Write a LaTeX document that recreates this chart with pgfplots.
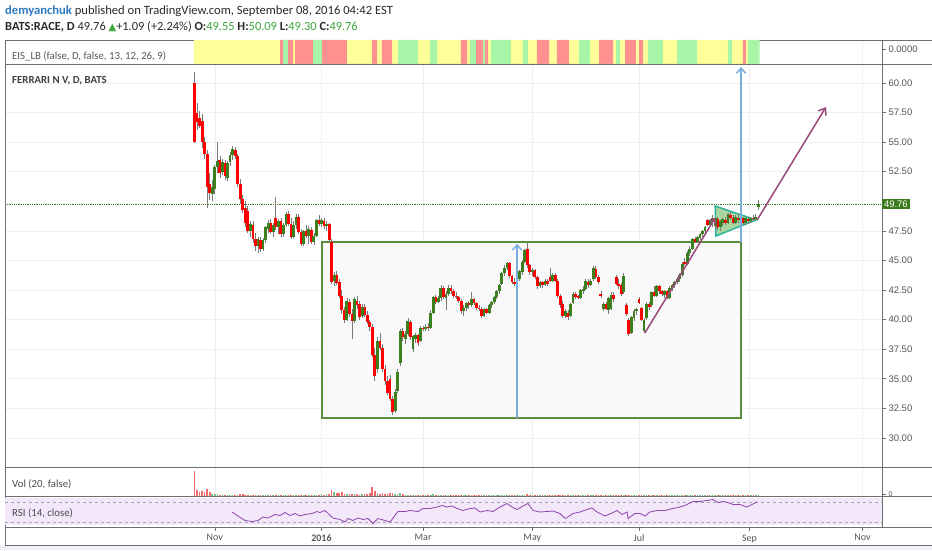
\documentclass[border=0pt]{standalone}
\usepackage{pgfplots}
\pgfplotsset{compat=1.18}
\usepackage{pgfplotstable}
\usepackage{fontspec}
\setmainfont{Carlito}
\newfontfamily\libsans{Liberation Sans}
\newfontfamily\dejavu{DejaVu Sans}
\usetikzlibrary{arrows.meta}
\definecolor{framec}{HTML}{707070}
\definecolor{gridc}{HTML}{EFEFEF}
\definecolor{tickc}{HTML}{555555}
\definecolor{eisY}{HTML}{FFFF99}
\definecolor{eisR}{HTML}{FF9090}
\definecolor{eisG}{HTML}{A8F5A8}
\definecolor{cred}{HTML}{FF0000}
\definecolor{cgreen}{HTML}{3C7F1E}
\definecolor{wick}{HTML}{7A7A7A}
\definecolor{boxgreen}{HTML}{5B8E3B}
\definecolor{boxfill}{HTML}{F9F9F9}
\definecolor{arrowblue}{HTML}{7AAEE0}
\definecolor{arrowpurple}{HTML}{9A4878}
\definecolor{trifill}{HTML}{A9D6A0}
\definecolor{triedge}{HTML}{2DB39B}
\definecolor{lastgreen}{HTML}{3A7A1C}
\definecolor{rsiline}{HTML}{8E44AD}
\definecolor{rsifill}{HTML}{F3E7FA}
\definecolor{volred}{HTML}{F26D6D}
\definecolor{volgreen}{HTML}{7FBF8F}
\definecolor{tvblue}{HTML}{2D7BC0}
\definecolor{valgreen}{HTML}{3DA63D}
\definecolor{bgstrip}{HTML}{EEF2F6}
\definecolor{txt}{HTML}{2A2A2A}

\pgfplotstableread{
b o h l c v
0 60.00 60.93 54.90 55.00 84
1 57.50 58.30 56.00 56.70 20
2 57.00 57.60 56.20 56.40 14
3 56.80 57.40 54.50 55.00 16
4 55.00 55.40 53.60 54.00 12
5 54.00 54.30 49.40 51.20 23
6 51.50 52.40 50.10 50.70 15
7 50.60 51.80 50.00 51.20 8
8 51.00 53.10 50.60 52.90 7
9 52.90 55.00 52.40 53.40 6
10 53.50 53.80 52.00 52.40 5
11 52.50 53.60 52.20 53.30 4
12 53.20 53.50 51.80 52.10 4
13 52.00 53.40 51.70 53.20 5
14 53.30 54.20 53.00 53.90 4
15 53.90 54.70 53.50 54.40 3
16 54.30 54.60 53.60 53.80 3
17 53.80 54.00 51.20 51.50 4
18 51.50 51.90 49.80 50.20 6
19 50.20 50.50 49.00 49.30 6
20 49.40 50.00 47.80 48.20 5
21 49.20 49.60 47.30 47.50 5
22 47.50 48.30 47.00 48.10 4
23 48.00 48.30 46.50 46.80 4
24 46.80 47.30 45.80 46.20 5
25 46.20 47.00 45.60 46.80 4
26 46.70 47.00 45.70 46.00 3
27 46.00 46.90 45.80 46.70 5
28 46.70 47.90 46.50 47.80 4
29 47.70 48.40 47.30 48.20 3
30 48.20 48.50 47.20 47.40 3
31 47.40 48.20 47.00 48.00 4
32 48.60 50.40 47.60 47.80 5
33 47.80 48.50 47.20 48.30 3
34 48.30 48.60 47.00 47.20 3
35 47.20 48.20 47.00 48.00 4
36 48.00 49.10 47.80 48.90 3
37 48.90 49.20 47.90 48.10 3
38 48.10 48.60 46.80 47.00 4
39 47.00 48.30 46.90 48.00 3
40 48.00 48.90 47.70 48.70 2
41 48.70 48.90 47.20 47.40 3
42 47.40 47.70 46.20 46.40 4
43 46.40 47.60 46.20 47.50 3
44 47.50 48.00 46.90 47.10 3
45 47.10 47.90 46.40 47.70 2
46 47.60 47.80 46.40 46.60 3
47 46.60 47.30 46.30 47.10 2
48 47.10 48.50 47.00 48.40 3
49 48.40 48.80 47.90 48.10 2
50 48.10 48.60 47.80 48.40 6
51 48.30 48.60 47.70 47.90 5
52 47.90 48.30 47.50 48.10 6
53 48.10 48.20 46.50 46.70 7
54 46.60 46.80 43.00 43.20 20
55 43.30 44.00 42.80 43.80 12
56 43.80 44.10 42.90 43.10 10
57 43.20 43.40 41.80 42.00 9
58 42.00 42.50 40.50 40.80 13
59 40.80 41.10 39.70 40.00 8
60 40.00 41.80 39.90 41.60 7
61 41.50 41.70 40.20 40.50 7
62 40.50 40.90 38.40 39.90 8
63 39.90 41.90 39.70 41.70 6
64 41.60 42.00 40.90 41.20 6
65 41.30 41.60 40.00 40.20 5
66 40.30 41.30 40.10 41.10 6
67 41.10 41.30 40.20 40.40 7
68 40.40 40.70 39.60 39.80 8
69 39.80 40.00 39.00 39.40 9
70 39.40 39.60 36.80 37.00 30
71 37.00 37.60 34.80 35.20 18
72 35.80 38.50 35.50 38.20 10
73 38.20 38.90 37.40 37.60 8
74 37.60 37.90 35.60 35.80 9
75 35.80 36.20 34.50 34.80 8
76 34.80 35.20 33.60 33.80 7
77 35.00 35.30 33.10 33.30 9
78 33.30 33.50 31.90 32.20 10
79 32.30 34.10 32.10 33.90 8
80 34.00 35.80 33.80 35.60 7
81 36.30 39.20 36.10 39.00 9
82 39.00 39.30 38.20 38.50 6
83 38.40 39.00 37.90 38.80 5
84 38.80 40.10 38.60 39.90 5
85 39.80 40.00 38.30 38.50 4
86 37.50 38.70 37.30 38.60 5
87 38.40 38.90 38.00 38.70 4
88 38.70 38.80 37.80 38.00 4
89 38.20 39.50 38.10 39.30 5
90 39.30 39.50 39.00 39.20 4
91 39.20 39.60 39.00 39.40 4
92 39.40 39.70 39.00 39.30 3
93 39.30 40.80 39.20 40.60 5
94 40.60 42.00 40.50 41.90 6
95 41.90 42.10 41.30 41.50 4
96 41.50 42.00 41.40 41.80 3
97 41.80 42.90 41.60 42.70 4
98 42.70 42.80 41.70 41.90 3
99 41.80 42.40 40.80 42.20 3
100 42.20 42.90 42.00 42.70 4
101 42.70 42.90 42.20 42.40 3
102 42.40 42.60 41.80 42.00 3
103 42.00 42.30 41.70 41.90 2
104 41.90 42.00 41.40 41.60 3
105 41.60 41.70 40.50 40.70 4
106 40.70 41.20 40.30 41.00 3
107 41.00 41.50 40.70 41.40 3
108 41.40 41.60 40.90 41.20 2
109 41.20 42.30 41.10 41.70 3
110 41.70 41.80 41.20 41.40 2
111 41.40 41.50 40.80 41.00 3
112 41.00 41.20 40.70 40.90 2
113 40.90 41.10 40.10 40.30 3
114 40.30 41.00 40.20 40.90 3
115 40.90 41.00 40.50 40.60 2
116 40.60 41.30 40.50 41.20 3
117 41.20 41.60 41.00 41.50 3
118 41.50 42.00 41.30 41.90 3
119 41.90 42.50 41.70 42.40 4
120 42.40 43.00 42.20 42.90 4
121 43.00 44.00 42.90 43.90 5
122 43.90 44.60 43.70 44.40 4
123 44.40 44.90 44.20 44.80 4
124 44.80 44.90 43.50 43.70 4
125 43.70 43.80 43.00 43.20 3
126 43.20 43.50 42.80 43.00 3
127 43.00 43.40 42.80 43.30 2
128 43.40 44.20 43.30 44.10 3
129 44.00 45.00 43.80 44.90 4
130 44.90 46.00 44.80 45.90 5
131 46.00 46.60 44.40 44.60 6
132 44.60 44.70 43.80 44.00 4
133 44.00 44.40 43.70 44.20 3
134 44.20 44.30 43.40 43.60 3
135 43.60 43.70 42.60 42.80 4
136 42.80 43.30 42.70 43.20 3
137 43.20 43.30 42.70 42.90 2
138 42.90 43.40 42.80 43.30 2
139 43.30 43.40 42.80 43.00 2
140 43.60 44.40 43.20 43.30 3
141 43.30 43.90 43.20 43.80 2
142 43.80 43.90 43.20 43.30 2
143 43.30 43.40 41.80 42.00 4
144 42.00 42.20 41.00 41.20 4
145 41.30 41.60 40.10 40.30 5
146 40.30 40.90 40.10 40.70 3
147 40.60 40.80 40.00 40.20 3
148 40.30 41.40 40.20 41.30 3
149 41.40 42.30 41.30 42.20 3
150 42.20 42.30 41.70 41.90 2
151 42.00 42.10 41.70 41.80 2
152 41.80 42.60 41.70 42.50 3
153 42.40 42.80 42.20 42.60 2
154 42.60 43.40 42.50 43.30 3
155 43.20 43.40 42.70 42.90 2
156 42.90 43.40 42.80 43.30 2
157 43.40 44.50 43.30 44.40 4
158 44.30 44.50 43.40 43.60 3
159 43.60 43.80 43.00 43.20 3
160 42.20 42.40 41.80 42.00 4
161 40.90 41.50 40.70 41.30 5
162 41.30 41.50 40.80 40.90 3
163 40.80 41.90 40.50 41.80 3
164 40.90 42.30 40.80 42.10 3
165 42.10 42.30 41.50 41.70 2
166 43.60 43.80 42.90 43.00 4
167 43.00 43.40 42.60 42.80 3
168 42.90 43.10 42.00 42.20 3
169 42.30 43.90 42.20 43.70 3
170 41.20 41.40 40.30 40.50 4
171 40.00 40.10 38.60 38.80 5
172 38.90 40.30 38.80 40.20 3
173 40.10 40.90 39.90 40.70 3
174 40.70 41.00 40.40 40.90 2
175 41.70 41.90 41.30 41.40 2
176 41.00 41.10 39.90 40.00 3
177 39.00 40.10 38.90 40.00 3
178 40.10 41.50 40.00 41.30 3
179 41.30 41.50 40.80 41.10 2
180 41.20 42.40 41.10 42.30 3
181 42.30 42.80 41.90 42.00 2
182 42.00 42.90 41.90 42.80 2
183 42.80 42.90 42.20 42.40 2
184 42.40 42.50 42.00 42.20 2
185 42.10 42.50 41.80 42.40 2
186 42.40 42.50 41.70 41.80 3
187 41.80 42.80 41.70 42.70 3
188 42.70 43.00 42.40 42.90 2
189 42.90 43.30 42.70 43.20 3
190 43.20 43.60 43.00 43.40 3
191 43.40 43.90 43.20 43.80 3
192 43.80 44.90 43.60 44.70 4
193 44.90 45.20 44.60 44.70 3
194 44.70 45.80 44.60 45.60 4
195 45.60 46.20 45.40 46.00 4
196 46.00 46.90 45.90 46.80 5
197 46.80 47.00 46.50 46.60 3
198 46.60 47.10 46.50 47.00 3
199 46.90 47.30 46.70 47.20 3
200 47.20 47.60 47.00 47.50 3
201 47.50 47.90 47.30 47.80 4
202 48.40 48.50 47.90 48.00 3
203 48.00 48.50 47.90 48.40 3
204 48.30 48.80 47.80 48.60 4
205 47.90 48.70 47.70 48.60 3
206 48.50 48.70 47.60 47.80 3
207 47.80 48.40 47.50 48.30 3
208 48.20 48.60 47.90 48.50 2
209 48.40 48.70 48.00 48.20 2
210 48.20 49.00 48.10 48.90 3
211 48.80 49.10 48.40 48.60 2
212 48.60 48.80 48.10 48.20 2
213 48.20 48.80 48.10 48.70 3
214 48.60 48.90 48.20 48.40 2
215 48.40 48.70 48.10 48.60 2
216 48.60 48.70 48.10 48.20 2
217 48.20 48.70 48.00 48.60 3
218 48.50 48.70 48.10 48.30 2
219 48.30 48.70 48.20 48.60 2
220 48.60 48.80 48.30 48.50 2
221 48.50 48.90 48.40 48.67 3
222 49.55 50.09 49.30 49.76 4
}\candles

\pgfplotsset{
  panel/.style={
    scale only axis, width=877pt,
    xmin=-74.6, xmax=270.67,
    axis line style={draw=framec, line width=0.8pt},
    xtick={8,50,90,133,175,218.5,263},
    xticklabels={},
    xmajorgrids,
    grid style={draw=gridc, line width=0.6pt},
    ytick pos=right, yticklabel pos=right, xtick pos=left,
    tick align=outside, major tick length=4pt,
    ytick style={draw=framec, line width=0.6pt},
    xtick style={draw=none},
    y tick label style={font=\libsans\fontsize{9.5}{11}\selectfont, text=tickc, xshift=-1pt,
      /pgf/number format/fixed, /pgf/number format/fixed zerofill,
      /pgf/number format/precision=2, /pgf/number format/assume math mode=true},
  },
  nomark/.style={only marks, mark=*, mark size=0pt, mark options={draw=none, fill=none}},
}

\begin{document}
\begin{tikzpicture}
\useasboundingbox (0,0) rectangle (932pt,550pt);
\fill[white] (0,0) rectangle (932pt,550pt);
\fill[bgstrip] (0,0) rectangle (932pt,5pt);

% EIS panel
\begin{axis}[panel, at={(5pt,510pt)}, anchor=north west, height=24pt,
  ymin=0, ymax=1, ytick={0.62}, yticklabels={0.0000}]
\addplot[const plot, fill=eisY, draw=none] coordinates {(-0.2,1)(33.7,0)(38.8,1)(39.6,0)(60,1)(69.9,0)(71.9,1)(73.8,0)(77.8,1)(80.1,0)(88,1)(92.7,0)(95.5,1)(104.9,0)(107.3,1)(108.5,0)(115.6,1)(116.7,0)(124.6,1)(129.3,0)(131.3,1)(134.8,0)(139.6,1)(142.7,0)(147.4,1)(151.4,0)(155.7,1)(159.3,0)(164.8,1)(166,0)(167.5,1)(169.5,0)(173.8,1)(175,0)(176.6,1)(178.5,0)(184.4,1)(189.9,0)(197.8,1)(210,0)(211.6,1)(215.9,0)(217.1,1)(217.9,0)} \closedcycle;
\addplot[const plot, fill=eisR, draw=none] coordinates {(33.7,1)(34.8,0)(36.8,1)(38.8,0)(39.6,1)(46.7,0)(50.2,1)(60,0)(69.9,1)(71.9,0)(73.8,1)(77.8,0)(104.9,1)(107.3,0)(110.8,1)(113.6,0)(114.4,1)(115.6,0)(134.8,1)(139.6,0)(142.7,1)(147.4,0)(159.3,1)(164.8,0)(169.5,1)(173.8,0)(175,1)(176.6,0)(215.9,1)(217.1,0)} \closedcycle;
\addplot[const plot, fill=eisG, draw=none] coordinates {(34.8,1)(36.8,0)(46.7,1)(50.2,0)(80.1,1)(88,0)(92.7,1)(95.5,0)(108.5,1)(110.8,0)(113.6,1)(114.4,0)(116.7,1)(124.6,0)(129.3,1)(131.3,0)(151.4,1)(155.7,0)(166,1)(167.5,0)(178.5,1)(184.4,0)(189.9,1)(197.8,0)(210,1)(211.6,0)(217.9,1)(222.5,0)} \closedcycle;
\end{axis}

% Price panel
\begin{axis}[panel, at={(5pt,486pt)}, anchor=north west, height=403pt,
  ymin=27.54, ymax=61.606, ymajorgrids,
  ytick={30,32.5,35,37.5,40,42.5,45,47.5,52.5,55,57.5,60},
  extra y ticks={49.76}, extra y tick labels={49.76},
  extra y tick style={major tick length=0pt, grid=none,
    yticklabel style={fill=lastgreen, text=white, inner sep=1.8pt, xshift=1pt}}]
\addplot[draw=boxgreen, line width=1.8pt, fill=boxfill] coordinates {(50.2,31.68)(215.2,31.68)(215.2,46.56)(50.2,46.56)} -- cycle;
\addplot[draw=lastgreen, densely dotted, line width=0.8pt] coordinates {(-74.6,49.76)(270.67,49.76)};
\addplot[draw=triedge, line width=1.5pt, fill=trifill] coordinates {(205,49.60)(205.3,47.07)(221.1,48.42)} -- cycle;
% wicks
\addplot[nomark, error bars/.cd, y dir=plus, y explicit, error mark=none,
  error bar style={draw=wick, line width=0.7pt}]
  table[x=b, y=l, y error plus expr=\thisrow{h}-\thisrow{l}] {\candles};
% down bodies
\addplot[nomark, restrict expr to domain={\thisrow{o}-\thisrow{c}}{0.001:100},
  error bars/.cd, y dir=plus, y explicit, error mark=none,
  error bar style={draw=cred, line width=2.8pt}]
  table[x=b, y=c, y error plus expr=\thisrow{o}-\thisrow{c}] {\candles};
% up bodies
\addplot[nomark, restrict expr to domain={\thisrow{c}-\thisrow{o}}{0:100},
  error bars/.cd, y dir=plus, y explicit, error mark=none,
  error bar style={draw=cgreen, line width=2.8pt}]
  table[x=b, y=o, y error plus expr=\thisrow{c}-\thisrow{o}] {\candles};
% arrows
\addplot[draw=arrowblue, line width=1.5pt, -{Straight Barb[length=5pt,width=9pt]}] coordinates {(127,31.68)(127,46.4)};
\addplot[draw=arrowblue, line width=1.5pt, -{Straight Barb[length=5pt,width=9pt]}] coordinates {(215.2,46.56)(215.2,61.35)};
\addplot[draw=arrowpurple, line width=1.5pt, -{Straight Barb[length=5pt,width=8pt]}] coordinates {(177.3,38.87)(205,48.6)};
\addplot[draw=arrowpurple, line width=1.5pt, -{Straight Barb[length=6pt,width=9pt]}] coordinates {(221.5,48.42)(248.6,57.97)};
\end{axis}

% Volume panel
\begin{axis}[panel, at={(5pt,83pt)}, anchor=north west, height=29pt,
  ymin=0, ymax=97, ytick={6}, yticklabels={0},
  y tick label style={font=\libsans\fontsize{7}{8}\selectfont}]
\addplot[ycomb, draw=volred, line width=1.6pt, restrict expr to domain={\thisrow{o}-\thisrow{c}}{0.001:100}] table[x=b, y=v] {\candles};
\addplot[ycomb, draw=volgreen, line width=1.6pt, restrict expr to domain={\thisrow{c}-\thisrow{o}}{0:100}] table[x=b, y=v] {\candles};
\end{axis}

% RSI panel
\begin{axis}[panel, at={(5pt,54pt)}, anchor=north west, height=31pt,
  ymin=20, ymax=82, ytick=\empty,
  xticklabels={Nov,\textbf{2016},Mar,May,Jul,Sep,Nov},
  xtick style={draw=framec, line width=0.6pt},
  x tick label style={font=\fontsize{10}{12}\selectfont, text=tickc}]
\addplot[fill=rsifill, draw=none] coordinates {(-74.6,24)(270.67,24)(270.67,79)(-74.6,79)} -- cycle;
\addplot[draw=black!35, dashed, line width=0.5pt] coordinates {(-74.6,70)(270.67,70)};
\addplot[draw=black!35, dashed, line width=0.5pt] coordinates {(-74.6,30)(270.67,30)};
\addplot[draw=rsiline, line width=0.8pt] coordinates {
(14.8,50)(17.1,42)(19.9,33)(22.6,31)(25,33)(27,40)(28.9,38)(31.7,45)(33.7,43)(35.6,49)
(37.6,43)(39.6,47)(41.5,42)(43.5,45)(46.3,47)(48.2,51)(49.4,49)(51.4,53)(52.6,47)(54.5,38)
(57.3,35)(59.3,30)(60.4,37)(62.4,33)(64.4,38)(66.3,35)(68.3,37)(70.3,27)(72.2,37)(75,33)
(77,30)(80.1,51)(82.9,51)(84.8,53)(88,51)(90,57)(92.7,57)(95.5,60)(97.4,63)(99.4,60)
(101.4,62)(103.3,57)(105.7,53)(108.5,57)(110.4,58)(112.4,50)(115.2,53)(117.5,51)(120.3,60)
(123,67)(125,60)(127,55)(129.3,62)(131.3,67)(133.3,53)(136,50)(138.8,51)(141.1,52)(143.9,47)
(145.9,37)(147,40)(149,47)(151.8,50)(154.5,55)(156.5,58)(158.5,50)(161.6,42)(164.4,48)
(166.3,53)(168.3,45)(170.3,50)(170.7,37)(173.4,47)(175.4,47)(177.4,42)(179.3,50)(182.1,53)
(185.2,53)(188.4,57)(191.1,60)(193.1,63)(196.3,71)(199,71)(201.8,73)(204.1,75)(206.1,69)
(208.1,71)(210,69)(212,65)(214.8,65)(217.5,60)(219.5,65)(221.5,70)};
\end{axis}

% frame extensions into the price scale and time row
\draw[framec, line width=0.8pt] (882pt,510pt) -- (932pt,510pt);
\draw[framec, line width=0.8pt] (882pt,486pt) -- (932pt,486pt);
\draw[framec, line width=0.8pt] (882pt,83pt) -- (932pt,83pt);
\draw[framec, line width=0.8pt] (882pt,54pt) -- (932pt,54pt);
\draw[framec, line width=0.8pt] (882pt,23pt) -- (932pt,23pt);
\draw[framec, line width=0.8pt] (5pt,23pt) -- (5pt,5pt) -- (932pt,5pt);

% panel labels
\node[anchor=west, inner sep=0pt, text=black!65, font=\fontsize{10.8}{12}\selectfont] at (12pt,494pt) {EIS\_LB (false, D, false, 13, 12, 26, 9)};
\node[anchor=west, inner sep=0pt, text=black!75, font=\bfseries\fontsize{10.8}{12}\selectfont] at (12pt,469pt) {FERRARI N V, D, BATS};
\node[anchor=west, inner sep=0pt, text=black!70, font=\fontsize{10.8}{12}\selectfont] at (12pt,66pt) {Vol (20, false)};
\node[anchor=west, inner sep=0pt, text=black!70, font=\fontsize{10.8}{12}\selectfont] at (12pt,37pt) {RSI (14, close)};

% header
\node[anchor=west, inner sep=0pt, text=txt, font=\fontsize{12.6}{14}\selectfont] at (5pt,539pt)
  {{\color{tvblue}\bfseries demyanchuk} published on TradingView.com, September 08, 2016 04:42 EST};
\node[anchor=west, inner sep=0pt, text=txt, font=\fontsize{12.4}{14}\selectfont] at (5pt,523pt)
  {\textbf{BATS:RACE, D} 49.76 {\color{valgreen}\dejavu\fontsize{10}{12}\selectfont ▲}+1.09 (+2.24\%) \textbf{O:}{\color{valgreen}49.55} \textbf{H:}{\color{valgreen}50.09} \textbf{L:}{\color{valgreen}49.30} \textbf{C:}{\color{valgreen}49.76}};
\end{tikzpicture}
\end{document}
